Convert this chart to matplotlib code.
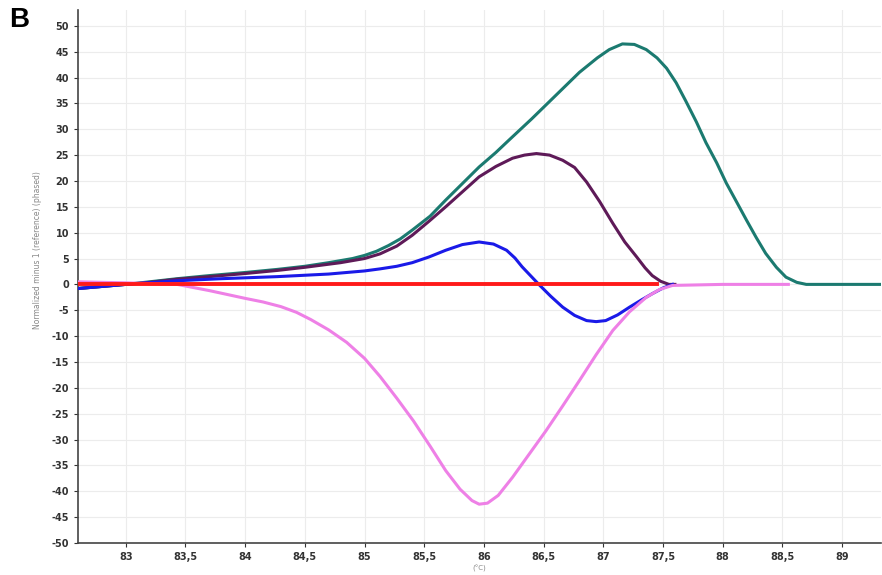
import numpy as np
import matplotlib
matplotlib.use("Agg")
from matplotlib import pyplot as plt
from matplotlib.ticker import FuncFormatter

plt.rcParams["axes.unicode_minus"] = False

# teal curve
teal_x = [82.6, 82.8, 83.0, 83.2, 83.43, 83.7, 84.0, 84.27, 84.5, 84.7, 84.9, 85.0, 85.1, 85.2,
          85.3, 85.4, 85.55, 85.68, 85.82, 85.96, 86.1, 86.21, 86.4, 86.6, 86.8, 86.95, 87.05,
          87.16, 87.26, 87.36, 87.45, 87.53, 87.61, 87.69, 87.78, 87.86, 87.95, 88.03, 88.12,
          88.2, 88.28, 88.36, 88.45, 88.53, 88.62, 88.7, 89.35]
teal_y = [-0.8, -0.4, 0.0, 0.5, 1.1, 1.7, 2.3, 2.9, 3.5, 4.2, 5.0, 5.6, 6.4, 7.5,
          8.8, 10.5, 13.2, 16.3, 19.5, 22.7, 25.5, 27.9, 32.0, 36.5, 41.0, 43.8, 45.4,
          46.5, 46.4, 45.4, 43.8, 41.8, 39.0, 35.5, 31.4, 27.4, 23.5, 19.6, 15.8,
          12.4, 9.1, 6.0, 3.3, 1.4, 0.4, 0.0, 0.0]

# purple curve
purple_x = [82.6, 82.8, 83.0, 83.2, 83.43, 83.7, 84.0, 84.27, 84.5, 84.8, 85.0, 85.13, 85.27,
            85.4, 85.54, 85.68, 85.82, 85.96, 86.1, 86.24, 86.34, 86.44, 86.55, 86.66, 86.76,
            86.86, 86.97, 87.08, 87.18, 87.28, 87.35, 87.41, 87.48, 87.55, 87.6]
purple_y = [-0.8, -0.4, 0.0, 0.4, 1.0, 1.5, 2.1, 2.7, 3.3, 4.2, 5.0, 5.9, 7.4,
            9.5, 12.2, 15.0, 17.9, 20.8, 22.8, 24.4, 25.0, 25.3, 25.0, 24.0, 22.6,
            19.8, 16.0, 11.8, 8.2, 5.3, 3.2, 1.7, 0.6, 0.0, 0.0]

# blue curve
blue_x = [82.6, 83.0, 83.43, 83.8, 84.27, 84.7, 85.0, 85.13, 85.27, 85.4, 85.54, 85.68, 85.82,
          85.96, 86.08, 86.19, 86.26, 86.32, 86.39, 86.46, 86.56, 86.66, 86.76, 86.86, 86.94,
          87.02, 87.12, 87.22, 87.32, 87.41, 87.5, 87.58]
blue_y = [-0.8, 0.0, 0.7, 1.1, 1.5, 2.0, 2.6, 3.0, 3.5, 4.2, 5.3, 6.6, 7.7,
          8.2, 7.8, 6.6, 5.1, 3.4, 1.7, 0.0, -2.3, -4.4, -6.0, -7.0, -7.2,
          -7.0, -5.9, -4.4, -3.0, -1.8, -0.7, 0.0]

# red curve
red_x = [82.6, 87.45]
red_y = [0.0, 0.0]

# pink curve
pink_x = [82.6, 83.0, 83.43, 83.7, 84.0, 84.15, 84.3, 84.43, 84.55, 84.7, 84.85, 85.0, 85.13,
          85.27, 85.41, 85.55, 85.68, 85.8, 85.9, 85.96, 86.03, 86.12, 86.24, 86.38, 86.52,
          86.66, 86.8, 86.94, 87.08, 87.22, 87.36, 87.47, 87.58, 88.0, 88.55]
pink_y = [0.5, 0.3, 0.0, -1.2, -2.7, -3.4, -4.3, -5.4, -6.8, -8.8, -11.2, -14.3, -17.8,
          -22.0, -26.4, -31.3, -36.0, -39.6, -41.8, -42.5, -42.3, -40.8, -37.3, -32.8, -28.3,
          -23.5, -18.6, -13.6, -8.9, -5.3, -2.5, -1.0, -0.2, 0.0, 0.0]

xticks = [83, 83.5, 84, 84.5, 85, 85.5, 86, 86.5, 87, 87.5, 88, 88.5, 89]
yticks = list(range(-50, 55, 5))

fig = plt.figure(figsize=(8.82, 5.75), dpi=100)
ax = fig.add_axes([0.0884, 0.0557, 0.911, 0.9273])

ax.plot(teal_x, teal_y, color="#1b7a70", lw=2.2, zorder=3)
ax.plot(purple_x, purple_y, color="#5e1a58", lw=2.2, zorder=4)
ax.plot(blue_x, blue_y, color="#1a1ae8", lw=2.2, zorder=5)
ax.plot(pink_x, pink_y, color="#ee80e6", lw=2.2, zorder=5)
ax.plot(red_x, red_y, color="#ff1a1a", lw=2.8, zorder=6)

ax.set_xlim(82.6, 89.33)
ax.set_ylim(-50, 53.1)
ax.set_xticks(xticks)
ax.set_yticks(yticks)
ax.xaxis.set_major_formatter(FuncFormatter(lambda v, p: ("%g" % v).replace(".", ",")))
ax.grid(True, color="#ececec", lw=0.8)
ax.set_axisbelow(True)

for s in ["top", "right"]:
    ax.spines[s].set_visible(False)
for s in ["left", "bottom"]:
    ax.spines[s].set_color("#444444")
    ax.spines[s].set_linewidth(1.2)

ax.tick_params(axis="both", labelsize=7, colors="#333333", length=3, width=0.8)
for lab in ax.get_xticklabels() + ax.get_yticklabels():
    lab.set_fontweight("bold")

ax.set_ylabel("Normalized minus 1 (reference) (phased)", fontsize=5.5, color="#888888", labelpad=6)
ax.yaxis.set_label_coords(-0.045, 0.55)
ax.set_xlabel("(°C)", fontsize=5, color="#888888", labelpad=2)

fig.text(0.022, 0.965, "B", fontsize=20, fontweight="bold", family="Liberation Sans",
         ha="center", va="center")

fig.savefig("out.png", dpi=100)
